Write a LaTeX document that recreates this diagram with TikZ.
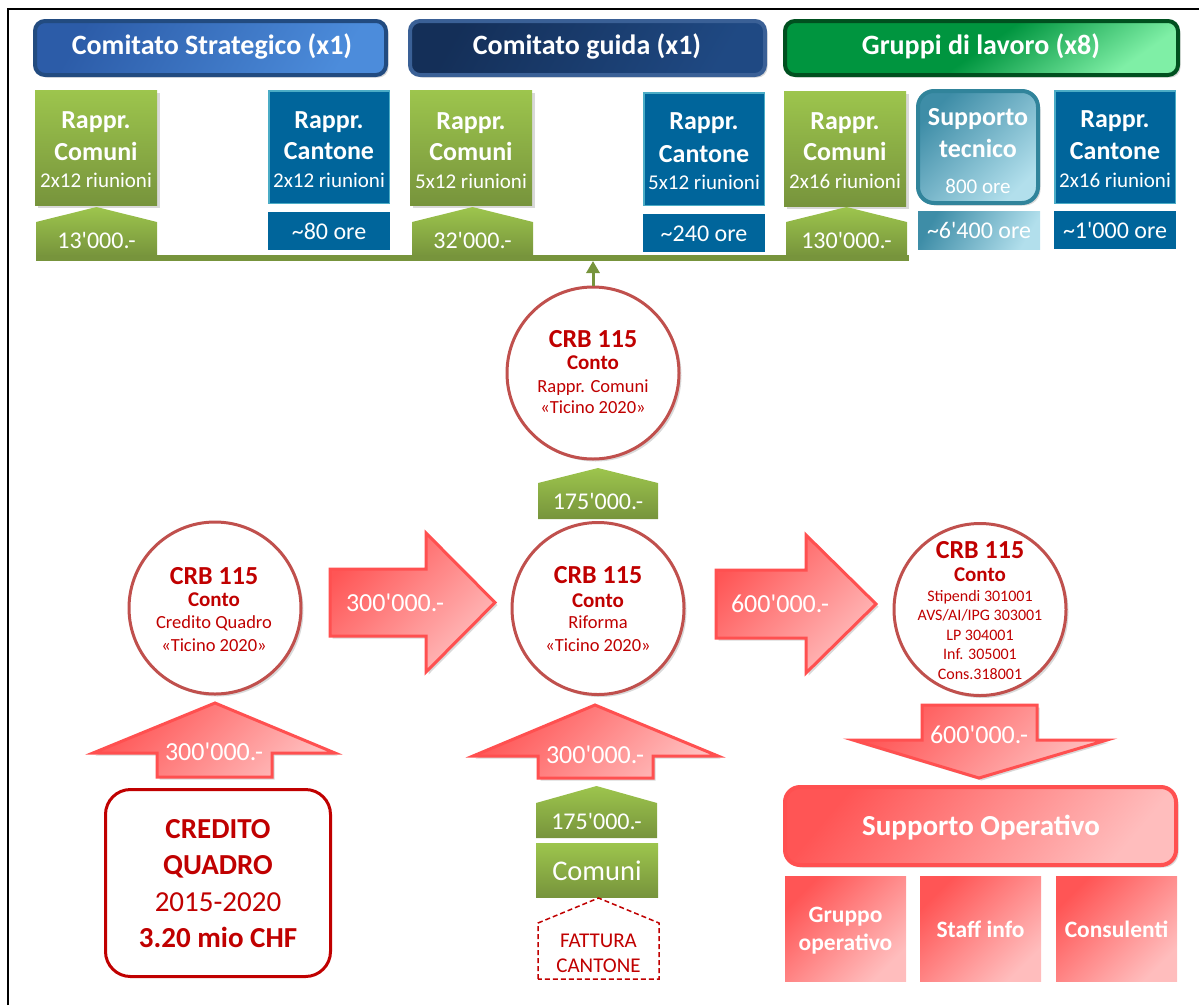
\documentclass[tikz,border=0pt]{standalone}
\usepackage{fontspec}
\newfontfamily\cf{Carlito}
\usetikzlibrary{shadows,arrows.meta,calc}
\definecolor{gtop}{HTML}{9DC54D}
\definecolor{gbot}{HTML}{77943C}
\definecolor{cblue}{HTML}{00659B}
\definecolor{cedge}{HTML}{4BACC6}
\definecolor{h1a}{HTML}{2C5CA8}
\definecolor{h1b}{HTML}{4C8CDB}
\definecolor{h1e}{HTML}{224B80}
\definecolor{h2a}{HTML}{142F58}
\definecolor{h2b}{HTML}{1F4983}
\definecolor{h2e}{HTML}{3A6096}
\definecolor{h3a}{HTML}{00953F}
\definecolor{h3b}{HTML}{7FEFA6}
\definecolor{h3e}{HTML}{00501F}
\definecolor{stA}{HTML}{3E8DA7}
\definecolor{stB}{HTML}{B2DFEC}
\definecolor{stE}{HTML}{31849B}
\definecolor{crb}{HTML}{C00000}
\definecolor{circedge}{HTML}{C0504D}
\definecolor{rA}{HTML}{FF5555}
\definecolor{rB}{HTML}{FFBDBD}
\definecolor{redge}{HTML}{FF5050}
\newcommand\fsz[1]{\cf\fontsize{#1}{#1}\selectfont}
\begin{document}
\begin{tikzpicture}[x=1pt,y=-1pt,
  t/.style={inner sep=0pt, anchor=base, text=white},
  ct/.style={inner sep=0pt, anchor=base, text=crb},
  shd/.style={drop shadow={shadow xshift=2.5pt, shadow yshift=-2.5pt, opacity=0.3}},
  hdr/.style={rectangle, line width=4pt, rounded corners=10pt, minimum height=54pt, inner sep=0pt, shd},
  gbox/.style={rectangle, top color=gtop, bottom color=gbot, minimum width=122pt, minimum height=115pt, inner sep=0pt, shd},
  bbox/.style={rectangle, fill=cblue, draw=cedge, line width=1.5pt, minimum width=120.5pt, minimum height=112.5pt, inner sep=0pt},
  obox/.style={rectangle, fill=cblue, minimum width=122pt, minimum height=38pt, inner sep=0pt},
  circ/.style={circle, draw=circedge, line width=3pt, fill=white, minimum size=172pt, inner sep=0pt, shd},
  redshape/.style={draw=redge, line width=3pt, top color=rA, bottom color=rB, shading angle=45, line join=miter, shd},
  greenshape/.style={top color=gtop, bottom color=gbot},
  redbox/.style={rectangle, top color=rA, bottom color=rB, shading angle=45, minimum width=121pt, minimum height=105pt, inner sep=0pt},
  big/.style={font=\fsz{26}\bfseries},
  small/.style={font=\fsz{21}},
  amt/.style={font=\fsz{24}},
  crbf/.style={font=\fsz{26}\bfseries},
  contof/.style={font=\fsz{21}\bfseries},
  subf/.style={font=\fsz{18.5}},
  tinyf/.style={font=\fsz{16}},
]
\useasboundingbox (0,0) rectangle (1199,1005);
\draw[line width=1.5pt] (8,1005) -- (8,9) -- (1199,9);

% headers
\node[hdr, draw=h1e, top color=h1a, bottom color=h1b, shading angle=60, minimum width=351pt] (h1) at (210.5,48) {};
\node[t, font=\fsz{28}\bfseries] (h1t) at (212,54) {Comitato Strategico (x1)};
\node[hdr, draw=h2e, top color=h2a, bottom color=h2b, shading angle=60, minimum width=355pt] (h2) at (587.5,48) {};
\node[t, font=\fsz{28}\bfseries] (h2t) at (587,54) {Comitato guida (x1)};
\node[hdr, draw=h3e, top color=h3a, bottom color=h3b, middle color=h3a, shading angle=35, minimum width=393pt] (h3) at (981.5,48) {};
\node[t, font=\fsz{28}\bfseries] (h3t) at (981,54) {Gruppi di lavoro (x8)};

% row 2
\node[gbox] (g1) at (96,147.5) {};
\node[t, big] (g1a) at (96,128) {Rappr.};
\node[t, big] (g1b) at (96,160) {Comuni};
\node[t, small] (g1c) at (96,187) {2x12 riunioni};

\node[bbox] (k1) at (329,147) {};
\node[t, big] (k1a) at (329,128) {Rappr.};
\node[t, big] (k1b) at (329,159) {Cantone};
\node[t, small] (k1c) at (329,187) {2x12 riunioni};

\node[gbox] (g2) at (471,147.5) {};
\node[t, big] (g2a) at (471,129) {Rappr.};
\node[t, big] (g2b) at (471,160) {Comuni};
\node[t, small] (g2c) at (471,188) {5x12 riunioni};

\node[bbox] (k2) at (704,149) {};
\node[t, big] (k2a) at (704,129) {Rappr.};
\node[t, big] (k2b) at (704,162) {Cantone};
\node[t, small] (k2c) at (704,189) {5x12 riunioni};

\node[gbox] (g3) at (845,148.5) {};
\node[t, big] (g3a) at (845,129) {Rappr.};
\node[t, big] (g3b) at (845,160) {Comuni};
\node[t, small] (g3c) at (845,188) {2x16 riunioni};

\node[rectangle, rounded corners=16pt, draw=stE, line width=4pt, top color=stA, bottom color=stB, shading angle=45, minimum width=120pt, minimum height=112pt, inner sep=0pt, shd] (st) at (978,147) {};
\node[t, big] (sta) at (978,125) {Supporto};
\node[t, big] (stb) at (978,157) {tecnico};
\node[t, small] (stc) at (978,193) {800 ore};

\node[bbox] (k3) at (1115,147) {};
\node[t, big] (k3a) at (1115,127) {Rappr.};
\node[t, big] (k3b) at (1115,159) {Cantone};
\node[t, small] (k3c) at (1115,187) {2x16 riunioni};

% hours boxes
\node[obox] (o1) at (329,231) {};
\node[t, amt] (o1t) at (329,239) {\textasciitilde80 ore};
\node[obox] (o2) at (704,233) {};
\node[t, amt] (o2t) at (704,241) {\textasciitilde240 ore};
\node[obox, top color=stA, bottom color=stB, shading angle=60] (o3) at (979,230) {};
\node[t, amt] (o3t) at (979,238) {\textasciitilde6'400 ore};
\node[obox] (o4) at (1115,230) {};
\node[t, amt] (o4t) at (1115,238) {\textasciitilde1'000 ore};

% green pentagons and bar
\path[greenshape] (36,256) -- (36,222) -- (96.5,207) -- (157,222) -- (157,256) -- cycle;
\path[greenshape] (412,256) -- (412,222) -- (472.5,207) -- (533,222) -- (533,256) -- cycle;
\path[greenshape] (786,256) -- (786,222) -- (846.5,207) -- (907,222) -- (907,256) -- cycle;
\fill[gbot] (36,255) rectangle (909,261);
\node[t, amt] (p1t) at (96.5,248) {13'000.-};
\node[t, amt] (p2t) at (472.5,248) {32'000.-};
\node[t, amt] (p3t) at (846.5,248) {130'000.-};
\coordinate (barpt) at (593,261);

% circles
\node[circ] (c1) at (593,373) {};
\node[circ] (c0) at (215,608) {};
\node[circ] (c2) at (598,608.5) {};
\node[circ] (c3) at (980,609.5) {};

\draw[gbot, line width=3pt, -{Triangle[length=12pt,width=13pt]}] (c1.north) -- (barpt);

\node[ct, crbf] (c1a) at (593,347) {CRB 115};
\node[ct, contof] (c1b) at (593,369) {Conto};
\node[ct, subf] (c1c) at (593,392) {Rappr. Comuni};
\node[ct, subf] (c1d) at (593,413) {«Ticino 2020»};

\node[ct, crbf] (c0a) at (214,584) {CRB 115};
\node[ct, contof] (c0b) at (214,606) {Conto};
\node[ct, subf] (c0c) at (214,628) {Credito Quadro};
\node[ct, subf] (c0d) at (214,651) {«Ticino 2020»};

\node[ct, crbf] (c2a) at (598,583) {CRB 115};
\node[ct, contof] (c2b) at (598,607) {Conto};
\node[ct, subf] (c2c) at (598,628) {Riforma};
\node[ct, subf] (c2d) at (598,651) {«Ticino 2020»};

\node[ct, crbf] (c3a) at (980,558) {CRB 115};
\node[ct, contof] (c3b) at (980,581) {Conto};
\node[ct, tinyf] (c3c) at (980,601) {Stipendi 301001};
\node[ct, tinyf] (c3d) at (980,620) {AVS/AI/IPG 303001};
\node[ct, tinyf] (c3e) at (980,640) {LP 304001};
\node[ct, tinyf] (c3f) at (980,659) {Inf. 305001};
\node[ct, tinyf] (c3g) at (980,679) {Cons.318001};

% mid green pentagon
\path[greenshape] (538,519) -- (538,483) -- (598,468) -- (658,483) -- (658,519) -- cycle;
\node[t, amt] (p4t) at (598,509) {175'000.-};

% red arrows
\path[redshape] (330,569) -- (426,569) -- (426,533) -- (495,602.5) -- (426,672) -- (426,636) -- (330,636) -- cycle;
\node[t, font=\fsz{26}] (ra1t) at (395,611) {300'000.-};
\path[redshape] (716,570) -- (806,570) -- (806,535) -- (876,604) -- (806,673) -- (806,638) -- (716,638) -- cycle;
\node[t, font=\fsz{26}] (ra2t) at (780,612) {600'000.-};

\path[redshape] (157,777) -- (157,753) -- (93,753) -- (215,703) -- (335,753) -- (272,753) -- (272,777) -- cycle;
\node[t, font=\fsz{26}] (ua1t) at (214,760) {300'000.-};
\path[redshape] (538,778) -- (538,756) -- (473,756) -- (595,705) -- (718,756) -- (653,756) -- (653,778) -- cycle;
\node[t, font=\fsz{26}] (ua2t) at (595,763) {300'000.-};
\path[redshape] (922,705) -- (1037,705) -- (1037,740) -- (1107,740) -- (979,778) -- (853,740) -- (922,740) -- cycle;
\node[t, font=\fsz{26}] (dat) at (979,743) {600'000.-};

% lower centre column
\path[greenshape] (536,838) -- (536,803) -- (596.5,786) -- (657,803) -- (657,838) -- cycle;
\node[t, amt] (p5t) at (596.5,829) {175'000.-};
\node[rectangle, top color=gtop, bottom color=gbot, minimum width=122pt, minimum height=54pt, inner sep=0pt] (cm) at (597,870) {};
\node[t, font=\fsz{28.5}] (cmt) at (597,880) {Comuni};
\draw[crb, line width=1.5pt, dash pattern=on 5pt off 3pt] (538,979) -- (538,923) -- (598.5,898) -- (659,923) -- (659,979) -- cycle;
\node[ct, font=\fsz{21}] (fa) at (598.5,947) {FATTURA};
\node[ct, font=\fsz{21}] (fb) at (598.5,972) {CANTONE};

% credito quadro
\node[rectangle, rounded corners=25pt, draw=crb, line width=3pt, fill=white, minimum width=225pt, minimum height=187pt, inner sep=0pt] (cq) at (218,883) {};
\node[ct, font=\fsz{29}\bfseries] (cqa) at (218,838) {CREDITO};
\node[ct, font=\fsz{29}\bfseries] (cqb) at (218,874) {QUADRO};
\node[ct, font=\fsz{29}] (cqc) at (218,911) {2015-2020};
\node[ct, font=\fsz{29}\bfseries] (cqd) at (218,947) {3.20 mio CHF};

% supporto operativo
\node[rectangle, rounded corners=15pt, draw=redge, line width=4pt, top color=rA, bottom color=rB, shading angle=50, minimum width=391pt, minimum height=78pt, inner sep=0pt, shd] (so) at (980.5,826) {};
\node[t, font=\fsz{29}\bfseries] (sot) at (981,835) {Supporto Operativo};

\node[redbox] (b1) at (845.5,928.5) {};
\node[t, font=\fsz{23.5}\bfseries] (b1a) at (845.5,922) {Gruppo};
\node[t, font=\fsz{23.5}\bfseries] (b1b) at (845.5,950) {operativo};
\node[redbox] (b2) at (980.5,928.5) {};
\node[t, font=\fsz{23.5}\bfseries] (b2a) at (980.5,937) {Staff info};
\node[redbox] (b3) at (1116.5,928.5) {};
\node[t, font=\fsz{23.5}\bfseries] (b3a) at (1116.5,937) {Consulenti};
\end{tikzpicture}
\end{document}
